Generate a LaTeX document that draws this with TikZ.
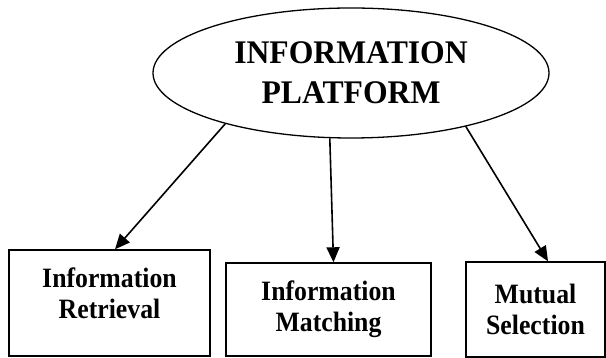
\documentclass[tikz,border=0pt]{standalone}
\usepackage{fontspec}
\setmainfont{Liberation Serif}
\newfontfamily\platformfont[FakeStretch=0.96]{Liberation Serif}
\newfontfamily\unitfont[FakeStretch=0.92]{Liberation Serif}
\usetikzlibrary{shapes.geometric,arrows.meta}
\begin{document}
\begin{tikzpicture}[x=1pt,y=1pt,
  platform/.style={ellipse,draw,line width=1.3pt,minimum width=396pt,minimum height=130pt,inner sep=0pt,align=center,
    font=\platformfont\fontsize{33}{40}\selectfont\bfseries},
  unitbox/.style={rectangle,draw,line width=1.4pt,inner sep=0pt,align=center,
    font=\unitfont\fontsize{28}{31}\selectfont\bfseries},
  arr/.style={line width=1.6pt,-{Triangle[length=15pt,width=13pt]}}]
\useasboundingbox (0,0) rectangle (606,358);
\node[platform] (ell) at (351,285) {INFORMATION\\PLATFORM};
\node[unitbox,minimum width=201pt,minimum height=106pt,text depth=20pt] (b1) at (109.5,55) {Information\\Retrieval};
\node[unitbox,minimum width=205pt,minimum height=93pt] (b2) at (328.5,48.5) {Information\\Matching};
\node[unitbox,minimum width=139pt,minimum height=95pt] (b3) at (535.5,48.5) {Mutual\\Selection};
\draw[arr] (ell.202.4) -- ([xshift=5.5pt]b1.north);
\draw[arr] (ell.252) -- ([xshift=5pt]b2.north);
\draw[arr] (ell.335.9) -- ([xshift=12.5pt]b3.north);
\end{tikzpicture}
\end{document}
